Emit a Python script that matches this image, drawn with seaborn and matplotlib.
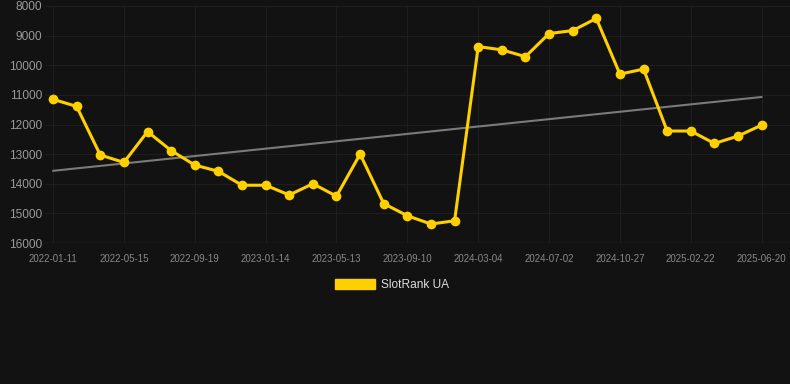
import seaborn as sns
import matplotlib.pyplot as plt
import pandas as pd
import numpy as np

# data
dates = [
    "2022-01-11", "2022-02-21", "2022-04-03", "2022-05-15", "2022-06-26", "2022-08-07",
    "2022-09-19", "2022-10-28", "2022-12-06", "2023-01-14", "2023-02-22", "2023-04-03",
    "2023-05-13", "2023-06-22", "2023-08-01", "2023-09-10", "2023-11-08", "2024-01-05",
    "2024-03-04", "2024-04-13", "2024-05-23", "2024-07-02", "2024-08-10", "2024-09-18",
    "2024-10-27", "2024-12-05", "2025-01-13", "2025-02-22", "2025-04-02", "2025-05-11",
    "2025-06-20",
]
ranks = [
    11150, 11390, 13030, 13280, 12240, 12880, 13370, 13580, 14050, 14050, 14380, 14000,
    14420, 13000, 14670, 15080, 15360, 15250, 9370, 9480, 9710, 8930, 8830, 8420,
    10300, 10130, 12220, 12220, 12640, 12390, 12020,
]
y_ticks = [8000, 9000, 10000, 11000, 12000, 13000, 14000, 15000, 16000]

df = pd.DataFrame({"date": dates, "rank": ranks, "pos": np.arange(len(dates))})

# linear trend over the series
coef = np.polyfit(df["pos"], df["rank"], 1)
df["trend"] = np.polyval(coef, df["pos"])

bg = "#121212"
yellow = "#FFD000"

sns.set_style("dark")
plt.rcParams["font.family"] = ["Liberation Sans", "DejaVu Sans"]

fig = plt.figure(figsize=(7.9, 3.84), dpi=100, facecolor=bg)
ax = fig.add_axes([45 / 790, (384 - 243) / 384, (790 - 45) / 790, (243 - 6) / 384])
ax.set_facecolor(bg)

sns.lineplot(data=df, x="pos", y="trend", color="#7a7a7a", linewidth=1.5, ax=ax, zorder=2)
sns.lineplot(data=df, x="pos", y="rank", color=yellow, linewidth=2.2, marker="o",
             markersize=7, markeredgewidth=0, ax=ax, zorder=3, label="SlotRank UA")

ax.set_xlim(-0.34, 31.2)
ax.set_ylim(16000, 8000)
ax.set_yticks(y_ticks)
ax.set_yticklabels([str(t) for t in y_ticks])
label_pos = df["pos"][::3]
ax.set_xticks(label_pos)
ax.set_xticklabels(df["date"][::3])

ax.grid(True, color="#1e1e1e", linewidth=0.8)
for s in ax.spines.values():
    s.set_visible(False)
ax.axhline(16000, color="#292929", linewidth=1, zorder=1)
ax.tick_params(axis="y", colors="#999999", labelsize=8.6, length=0, pad=2)
ax.tick_params(axis="x", colors="#292929", labelcolor="#888888", labelsize=7,
               length=4, pad=4, direction="out")
ax.set_xlabel("")
ax.set_ylabel("")

ax.legend_.remove()
handle = plt.Rectangle((0, 0), 1, 1, facecolor=yellow, edgecolor=yellow)
fig.legend([handle], ["SlotRank UA"], loc="center", bbox_to_anchor=(392 / 790, 1 - 285 / 384),
           frameon=False, fontsize=8.6, labelcolor="#dddddd", handlelength=3.4,
           handleheight=1.0, handletextpad=0.5)

fig.savefig("out.png", dpi=100, facecolor=bg)
